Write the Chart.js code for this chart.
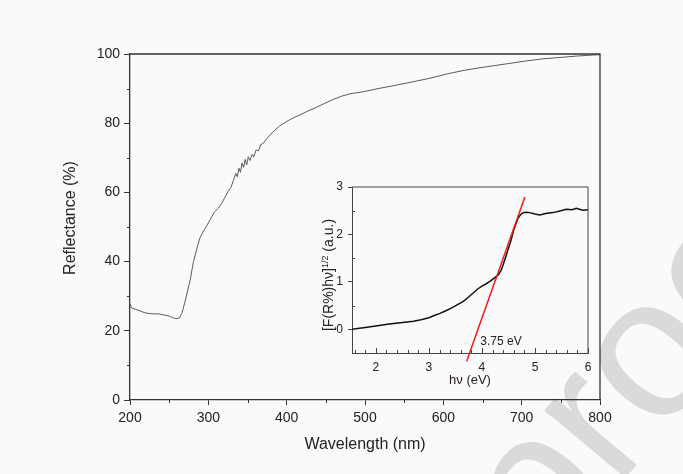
<!DOCTYPE html>
<html>
<head>
<meta charset="utf-8">
<script src="https://cdn.jsdelivr.net/npm/chart.js@4.4.1/dist/chart.umd.min.js"></script>
<style>
  html, body { margin: 0; padding: 0; background: #fafafa; }
  #wrap { position: relative; width: 683px; height: 474px; overflow: hidden; }
  canvas { position: absolute; }
</style>
</head>
<body>
<div id="wrap">
  <canvas id="wm" width="683" height="474" style="left:0;top:0"></canvas>
  <canvas id="main" width="683" height="474" style="left:0;top:0"></canvas>
  <canvas id="inset" width="310" height="225" style="left:290px;top:170px"></canvas>
</div>
<script>
// main spectrum
const wavelength = [200, 202, 210, 219, 228, 236, 243, 249, 254, 257, 260, 263, 266, 268, 270, 272, 275, 277, 279, 281,
  285, 289, 293, 296, 302, 308, 313, 317, 321, 325, 329, 332, 335, 337, 339, 341, 343, 345, 347, 349, 351, 353, 356, 358,
  361, 364, 367, 370, 376, 383, 391, 400, 408, 417, 427, 438, 449, 460, 470, 481, 498, 519, 540, 562, 583, 604, 625, 643,
  664, 685, 706, 727, 749, 770, 791, 800];
const reflectance = [27.8, 26.6, 26.0, 25.2, 24.9, 24.9, 24.6, 24.3, 23.9, 23.6, 23.5, 23.7, 25.0, 26.5, 28.2, 30.0, 33.0, 34.8, 37.5, 40.0,
  43.4, 46.7, 48.5, 49.6, 52.0, 54.4, 55.5, 56.8, 58.5, 60.2, 61.5, 63.5, 65.5, 64.5, 67.0, 65.8, 68.5, 67.2, 69.5, 68.0, 70.3, 69.2, 71.0, 70.2,
  72.3, 72.0, 73.8, 74.2, 75.9, 77.6, 79.2, 80.5, 81.5, 82.4, 83.5, 84.6, 85.8, 86.9, 87.8, 88.5, 89.1, 90.1, 91.0, 92.0, 93.0, 94.2, 95.2, 95.9,
  96.6, 97.3, 98.0, 98.6, 99.0, 99.4, 99.7, 99.8];
const mainMinorX = [250, 350, 450, 550, 650, 750];
const mainMinorY = [10, 30, 50, 70, 90];

// inset: Tauc plot
const energy = [1.55, 1.8, 2.0, 2.25, 2.46, 2.71, 2.85, 3.0, 3.1, 3.21, 3.32, 3.43, 3.54, 3.65, 3.75, 3.84, 3.92, 4.0, 4.08, 4.15,
  4.23, 4.31, 4.36, 4.40, 4.45, 4.50, 4.55, 4.59, 4.64, 4.68, 4.73, 4.78, 4.84, 4.9, 5.0, 5.09, 5.2, 5.34, 5.45, 5.59, 5.7, 5.78, 5.9, 6.0];
const tauc = [0.0, 0.04, 0.07, 0.11, 0.14, 0.17, 0.2, 0.245, 0.29, 0.335, 0.39, 0.45, 0.52, 0.59, 0.68, 0.77, 0.85, 0.91, 0.96, 1.01,
  1.08, 1.15, 1.24, 1.36, 1.53, 1.71, 1.88, 2.06, 2.22, 2.34, 2.42, 2.46, 2.47, 2.46, 2.43, 2.41, 2.44, 2.46, 2.49, 2.53, 2.52, 2.55, 2.51, 2.52];
const fitX = [3.71, 4.81];
const fitY = [-0.68, 2.79];
const insetMinorX = [1.6, 1.8, 2.2, 2.4, 2.6, 2.8, 3.2, 3.4, 3.6, 3.8, 4.2, 4.4, 4.6, 4.8, 5.2, 5.4, 5.6, 5.8];
const insetMajorX = [2, 3, 4, 5, 6];
const insetMajorY = [0, 1, 2, 3];
const insetMinorY = [0.5, 1.5, 2.5];
const gapLabel = '3.75 eV';

Chart.defaults.font.family = "'Liberation Sans', Arial, sans-serif";
Chart.defaults.color = '#222';

// watermark
(function () {
  const c = document.getElementById('wm').getContext('2d');
  c.save();
  c.translate(545, 574);
  c.rotate(-50 * Math.PI / 180);
  c.fillStyle = '#dadada';
  c.font = "200px 'Liberation Sans', Arial, sans-serif";
  c.fillText('proof', 0, 0);
  c.restore();
})();

// draws extra ticks (minor, or inward) and the top/right frame
function frameTicks(marks, frameColor, frameWidth) {
  return {
    id: 'frameTicks',
    afterDraw(chart) {
      const ctx = chart.ctx;
      const a = chart.chartArea;
      ctx.save();
      ctx.strokeStyle = frameColor;
      ctx.lineWidth = 1;
      marks.forEach(m => {
        const s = chart.scales[m.axis];
        m.values.forEach(v => {
          const p = Math.round(s.getPixelForValue(v)) + 0.5;
          ctx.beginPath();
          if (m.axis === 'x') { ctx.moveTo(p, a.bottom); ctx.lineTo(p, a.bottom + m.len); }
          else { ctx.moveTo(a.left, p); ctx.lineTo(a.left - m.len, p); }
          ctx.stroke();
        });
      });
      ctx.lineWidth = frameWidth;
      ctx.beginPath();
      ctx.moveTo(a.left, a.top);
      ctx.lineTo(a.right, a.top);
      ctx.lineTo(a.right, a.bottom);
      ctx.stroke();
      ctx.restore();
    }
  };
}

// rotated y title (sits a little above the plot centre in the original)
const mainYTitle = {
  id: 'mainYTitle',
  afterDraw(chart) {
    const ctx = chart.ctx;
    ctx.save();
    ctx.translate(75, 218);
    ctx.rotate(-Math.PI / 2);
    ctx.fillStyle = '#222';
    ctx.font = "16px 'Liberation Sans', Arial, sans-serif";
    ctx.textAlign = 'center';
    ctx.textBaseline = 'alphabetic';
    ctx.fillText('Reflectance (%)', 0, 0);
    ctx.restore();
  }
};

new Chart(document.getElementById('main'), {
  type: 'line',
  data: {
    datasets: [{
      data: wavelength.map((x, i) => ({ x: x, y: reflectance[i] })),
      borderColor: '#5a5a5a',
      borderWidth: 1,
      pointRadius: 0,
      tension: 0
    }]
  },
  options: {
    responsive: false,
    animation: false,
    layout: { padding: { left: 0, top: 54, right: 83, bottom: 0 } },
    plugins: { legend: { display: false }, tooltip: { enabled: false } },
    scales: {
      x: {
        type: 'linear', min: 200, max: 800,
        ticks: { stepSize: 100, font: { size: 14 }, padding: 5, maxRotation: 0 },
        grid: { drawOnChartArea: false, tickLength: 5, tickColor: '#333' },
        border: { color: '#333', width: 1.3 },
        title: { display: true, text: 'Wavelength (nm)', font: { size: 16 }, padding: { top: 0, bottom: 20 } },
        afterFit: s => { s.height = 74; }
      },
      y: {
        min: 0, max: 100,
        ticks: { stepSize: 20, font: { size: 14 }, padding: 4 },
        grid: { drawOnChartArea: false, tickLength: 6, tickColor: '#333' },
        border: { color: '#333', width: 1.3 },
        afterFit: s => { s.width = 130; }
      }
    }
  },
  plugins: [frameTicks([
    { axis: 'x', values: mainMinorX, len: 3 },
    { axis: 'y', values: mainMinorY, len: 3 }
  ], '#333', 1.3), mainYTitle]
});

const insetText = {
  id: 'insetText',
  afterDraw(chart) {
    const ctx = chart.ctx;
    const a = chart.chartArea;
    const xs = chart.scales.x, ys = chart.scales.y;
    ctx.save();
    ctx.fillStyle = '#222';
    ctx.font = "12px 'Liberation Sans', Arial, sans-serif";
    ctx.textAlign = 'center';
    ctx.textBaseline = 'middle';
    ctx.fillText(gapLabel, xs.getPixelForValue(4.36), ys.getPixelForValue(-0.26));
    // rotated y title with superscript
    const big = "14px 'Liberation Sans', Arial, sans-serif";
    const small = "9px 'Liberation Sans', Arial, sans-serif";
    const parts = [['[F(R%)hν]', big, 0], ['1/2', small, -5], [' (a.u.)', big, 0]];
    let total = 0;
    parts.forEach(p => { ctx.font = p[1]; total += ctx.measureText(p[0]).width; });
    ctx.translate(42.5, (a.top + a.bottom) / 2 + 5);
    ctx.rotate(-Math.PI / 2);
    ctx.textAlign = 'left';
    ctx.textBaseline = 'alphabetic';
    let x = -total / 2;
    parts.forEach(p => {
      ctx.font = p[1];
      ctx.fillText(p[0], x, p[2]);
      x += ctx.measureText(p[0]).width;
    });
    ctx.restore();
  }
};

new Chart(document.getElementById('inset'), {
  type: 'line',
  data: {
    datasets: [{
      data: fitX.map((x, i) => ({ x: x, y: fitY[i] })),
      borderColor: '#ee1c1c',
      borderWidth: 1.5,
      pointRadius: 0,
      clip: false,
      order: 0
    }, {
      data: energy.map((x, i) => ({ x: x, y: tauc[i] })),
      borderColor: '#111',
      borderWidth: 1.5,
      pointRadius: 0,
      tension: 0,
      order: 1
    }]
  },
  options: {
    responsive: false,
    animation: false,
    layout: { padding: { left: 0, top: 17, right: 12, bottom: 0 } },
    plugins: { legend: { display: false }, tooltip: { enabled: false } },
    scales: {
      x: {
        type: 'linear', min: 1.55, max: 6,
        afterBuildTicks: s => { s.ticks = insetMajorX.map(v => ({ value: v })); },
        ticks: { font: { size: 12 }, padding: 7, maxRotation: 0 },
        grid: { drawOnChartArea: false, drawTicks: false },
        border: { color: '#444', width: 1 },
        title: { display: true, text: 'hν (eV)', font: { size: 13 }, color: '#2b2222', padding: { top: 0, bottom: 7 } },
        afterFit: s => { s.height = 42; }
      },
      y: {
        min: -0.5, max: 3,
        afterBuildTicks: s => { s.ticks = insetMajorY.map(v => ({ value: v })); },
        ticks: { font: { size: 12 }, padding: 5 },
        grid: { drawOnChartArea: false, tickLength: 4, tickColor: '#444' },
        border: { color: '#444', width: 1 },
        afterFit: s => { s.width = 62; }
      }
    }
  },
  plugins: [frameTicks([
    { axis: 'x', values: insetMajorX, len: -5 },
    { axis: 'x', values: insetMinorX, len: -3 },
    { axis: 'y', values: insetMinorY, len: -3 }
  ], '#444', 1), insetText]
});
</script>
</body>
</html>
